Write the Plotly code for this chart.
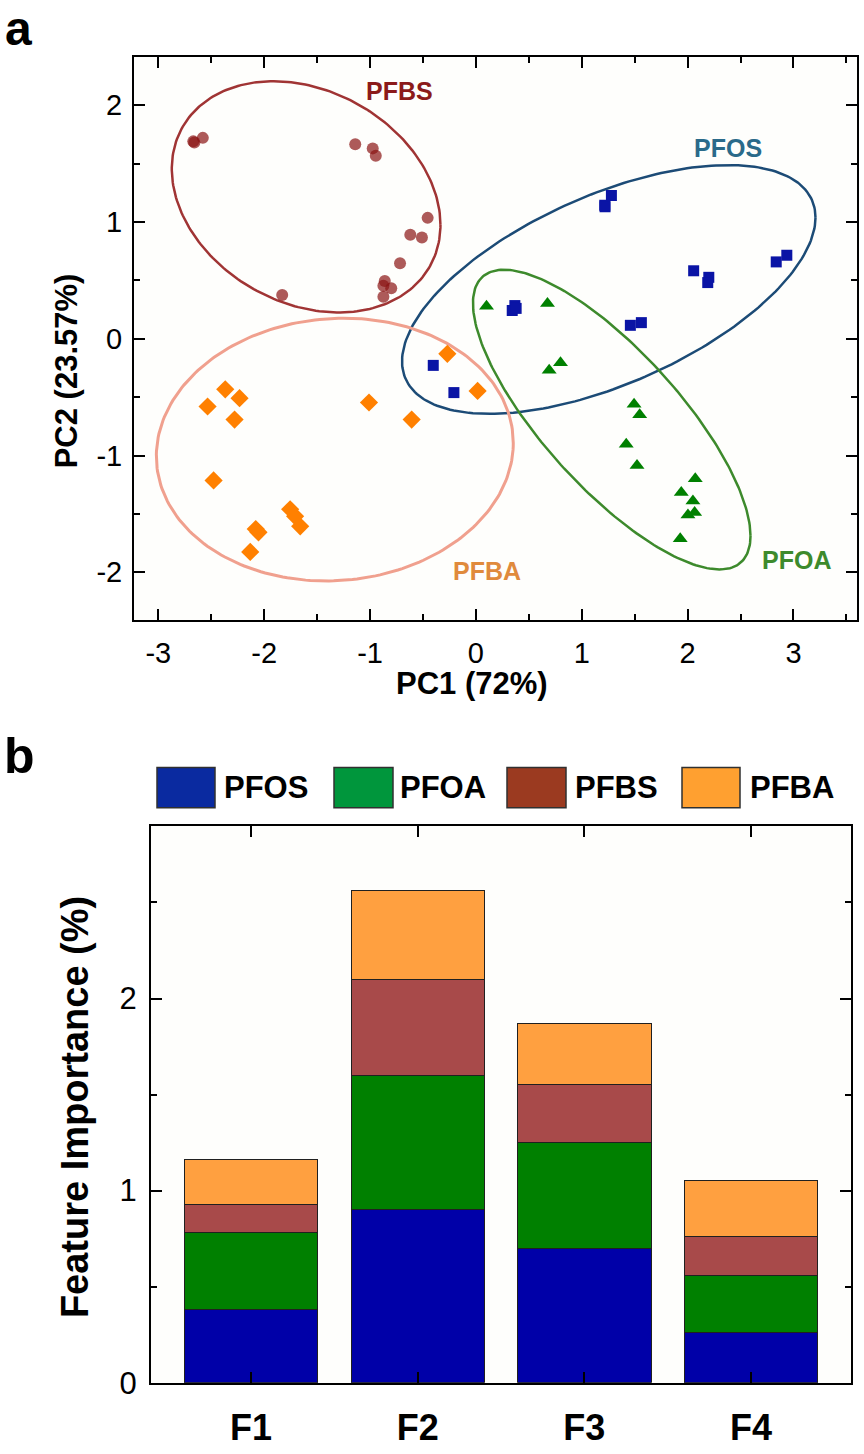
import numpy as np
import plotly.graph_objects as go

W, H = 864, 1454
FONT = "Liberation Sans, Arial, sans-serif"

# ---- panel a: PCA scores ----
PFOS_PC1 = [1.28, 1.217, 1.22, 2.057, 2.20, 2.19, 2.937, 2.837, 0.368, 0.343, 0.38, 1.563, 1.459, -0.403, -0.208]
PFOS_PC2 = [1.226, 1.142, 1.13, 0.582, 0.526, 0.481, 0.715, 0.658, 0.284, 0.242, 0.26, 0.138, 0.115, -0.228, -0.461]

PFOA_PC1 = [0.10, 0.676, 0.799, 0.692, 1.494, 1.547, 1.42, 1.522, 2.072, 1.94, 2.05, 2.066, 2.003, 1.93]
PFOA_PC2 = [0.278, 0.301, -0.205, -0.27, -0.56, -0.65, -0.903, -1.086, -1.198, -1.316, -1.39, -1.488, -1.508, -1.713]

PFBS_PC1 = [-2.67, -2.66, -2.58, -1.14, -0.975, -0.946, -0.456, -0.62, -0.51, -0.717, -0.861, -0.874, -0.80, -0.874, -1.83]
PFBS_PC2 = [1.69, 1.68, 1.72, 1.665, 1.63, 1.567, 1.035, 0.89, 0.867, 0.647, 0.495, 0.453, 0.433, 0.36, 0.374]

PFBA_PC1 = [-0.27, 0.016, -1.01, -0.607, -2.368, -2.233, -2.535, -2.28, -2.478, -1.755, -1.708, -1.66, -2.054, -2.08, -2.132]
PFBA_PC2 = [-0.129, -0.447, -0.546, -0.692, -0.433, -0.509, -0.58, -0.692, -1.213, -1.46, -1.52, -1.606, -1.657, -1.63, -1.825]

# confidence ellipses: centre, half extents, correlation
ELL_NAMES = ["PFBS", "PFOS", "PFOA", "PFBA"]
ELL_CX = [-1.604, 1.255, 1.283, -1.333]
ELL_CY = [1.215, 0.422, -0.692, -0.949]
ELL_HX = [1.269, 1.953, 1.311, 1.686]
ELL_HY = [0.990, 1.065, 1.283, 1.125]
ELL_RHO = [-0.243, 0.578, -0.776, 0.05]
ELL_COLORS = ["#a03434", "#1c4b76", "#3d8a2c", "#f0a08e"]
ELL_WIDTHS = [2.5, 2.5, 2.5, 3]

X_TICKS = [-3, -2, -1, 0, 1, 2, 3]
Y_TICKS = [-2, -1, 0, 1, 2]

# ---- panel b: feature importance ----
FEATURES = ["F1", "F2", "F3", "F4"]
IMP_PFOS = [0.38, 0.90, 0.70, 0.26]
IMP_PFOA = [0.40, 0.70, 0.55, 0.30]
IMP_PFBS = [0.15, 0.50, 0.30, 0.20]
IMP_PFBA = [0.23, 0.46, 0.32, 0.29]
B_TICKS = [0, 1, 2]


# positions are given in reference pixels and turned into paper fractions
def px(x):
    return x / W


def py(y):
    return 1 - y / H


def ellipse(cx, cy, hx, hy, rho, n=240):
    t = np.linspace(0, 2 * np.pi, n)
    x = cx + hx * np.cos(t)
    y = cy + hy * (rho * np.cos(t) + np.sqrt(1 - rho ** 2) * np.sin(t))
    return x, y


fig = go.Figure()

for i, name in enumerate(ELL_NAMES):
    ex, ey = ellipse(ELL_CX[i], ELL_CY[i], ELL_HX[i], ELL_HY[i], ELL_RHO[i])
    fig.add_trace(go.Scatter(x=ex, y=ey, mode="lines", showlegend=False, hoverinfo="skip",
                             line=dict(color=ELL_COLORS[i], width=ELL_WIDTHS[i])))

fig.add_trace(go.Scatter(x=PFBS_PC1, y=PFBS_PC2, mode="markers", name="PFBS", showlegend=False,
                         marker=dict(symbol="circle", size=12, color="#8a1414", opacity=0.7,
                                     line=dict(width=0))))
fig.add_trace(go.Scatter(x=PFBA_PC1, y=PFBA_PC2, mode="markers", name="PFBA", showlegend=False,
                         marker=dict(symbol="diamond", size=14, color="#ff8000", line=dict(width=0))))
fig.add_trace(go.Scatter(x=PFOS_PC1, y=PFOS_PC2, mode="markers", name="PFOS", showlegend=False,
                         marker=dict(symbol="square", size=11, color="#0a14a5", line=dict(width=0))))
fig.add_trace(go.Scatter(x=PFOA_PC1, y=PFOA_PC2, mode="markers", name="PFOA", showlegend=False,
                         marker=dict(symbol="triangle-up", size=13, color="#008000", line=dict(width=0))))

bar_series = [("PFOS", IMP_PFOS, "#0000a8"), ("PFOA", IMP_PFOA, "#008000"),
              ("PFBS", IMP_PFBS, "#a84a4a"), ("PFBA", IMP_PFBA, "#ffa040")]
for name, vals, col in bar_series:
    fig.add_trace(go.Bar(x=FEATURES, y=vals, name=name, xaxis="x2", yaxis="y2", showlegend=False,
                         marker=dict(color=col, line=dict(color="#202020", width=1))))

axis_common = dict(showline=True, linecolor="black", linewidth=2, mirror="allticks",
                   ticks="inside", ticklen=11, tickwidth=2, tickcolor="black",
                   showgrid=False, zeroline=False)

fig.update_layout(
    autosize=True,
    margin=dict(l=0, r=0, t=0, b=0),
    paper_bgcolor="white",
    plot_bgcolor="#fefefc",
    font=dict(family=FONT, color="black"),
    barmode="stack",
    bargap=0.2,
    xaxis=dict(domain=[px(134), px(857)], anchor="y", range=[-3.23, 3.6],
               tickvals=X_TICKS, ticktext=[str(v) for v in X_TICKS],
               tickfont=dict(size=29), ticklabelstandoff=6,
               minor=dict(dtick=0.5, ticks="inside", ticklen=6, tickwidth=2, tickcolor="black"),
               **axis_common),
    yaxis=dict(domain=[py(628), py(58)], anchor="x", range=[-2.41, 2.41],
               tickvals=Y_TICKS, ticktext=[str(v) for v in Y_TICKS],
               tickfont=dict(size=29), ticklabelstandoff=4,
               minor=dict(dtick=0.5, ticks="inside", ticklen=6, tickwidth=2, tickcolor="black"),
               **axis_common),
    xaxis2=dict(domain=[px(151), px(851)], anchor="y2", range=[-0.6, 3.6],
                tickfont=dict(size=36, weight="bold"), ticklabelstandoff=12,
                **axis_common),
    yaxis2=dict(domain=[py(1400), py(836)], anchor="x2", range=[0, 2.9],
                tickvals=B_TICKS, tickfont=dict(size=31), ticklabelstandoff=6,
                minor=dict(dtick=0.5, ticks="inside", ticklen=6, tickwidth=2, tickcolor="black"),
                **axis_common),
)

ann = []
# panel letters
ann.append(dict(x=px(18), y=1, yanchor="top", text="a", font=dict(size=48, weight="bold")))
ann.append(dict(x=px(19), y=py(765), text="b", font=dict(size=50, weight="bold")))
# axis titles
ann.append(dict(x=px(472), y=py(692), text="PC1 (72%)", font=dict(size=31, weight="bold")))
ann.append(dict(x=px(66), y=py(376), text="PC2 (23.57%)", textangle=-90, font=dict(size=31, weight="bold")))
ann.append(dict(x=px(75), y=py(1121), text="Feature Importance (%)", textangle=-90,
                font=dict(size=38, weight="bold")))
# cluster labels
for text, x, y, col in [("PFBS", 399, 92, "#8b1a1a"), ("PFOS", 728, 150, "#2a6a8a"),
                        ("PFOA", 796, 567, "#3d8a2c"), ("PFBA", 487, 578, "#e08a3c")]:
    ann.append(dict(x=px(x), y=py(y), text=text, font=dict(size=25, weight="bold", color=col)))

# legend for panel b drawn by hand (large swatches)
shapes = []
legend = [("PFOS", 157, 215, 222, "#0a2aa0"), ("PFOA", 334, 393, 398, "#00963c"),
          ("PFBS", 507, 566, 573, "#9b3a20"), ("PFBA", 682, 740, 748, "#ffa030")]
for text, x0, x1, tx, col in legend:
    shapes.append(dict(type="rect", xref="paper", yref="paper", x0=px(x0), x1=px(x1),
                       y0=py(818), y1=py(777), fillcolor=col, line=dict(color="#303030", width=1.5)))
    ann.append(dict(x=px(tx), y=py(797), text=text, xanchor="left",
                    font=dict(size=31, weight="bold")))

for a in ann:
    a.setdefault("xref", "paper")
    a.setdefault("yref", "paper")
    a.setdefault("showarrow", False)
    a.setdefault("xanchor", "center")
    a.setdefault("yanchor", "middle")

fig.update_layout(annotations=ann, shapes=shapes)

# the figure fills the browser window; drop the page margin and refit
fig.write_html(
    "out.html",
    default_width="100vw",
    default_height="100vh",
    config={"displayModeBar": False, "responsive": True},
    post_script="document.body.style.margin='0';"
                "document.body.style.overflow='hidden';"
                "Plotly.Plots.resize(document.getElementById('{plot_id}'));",
)
